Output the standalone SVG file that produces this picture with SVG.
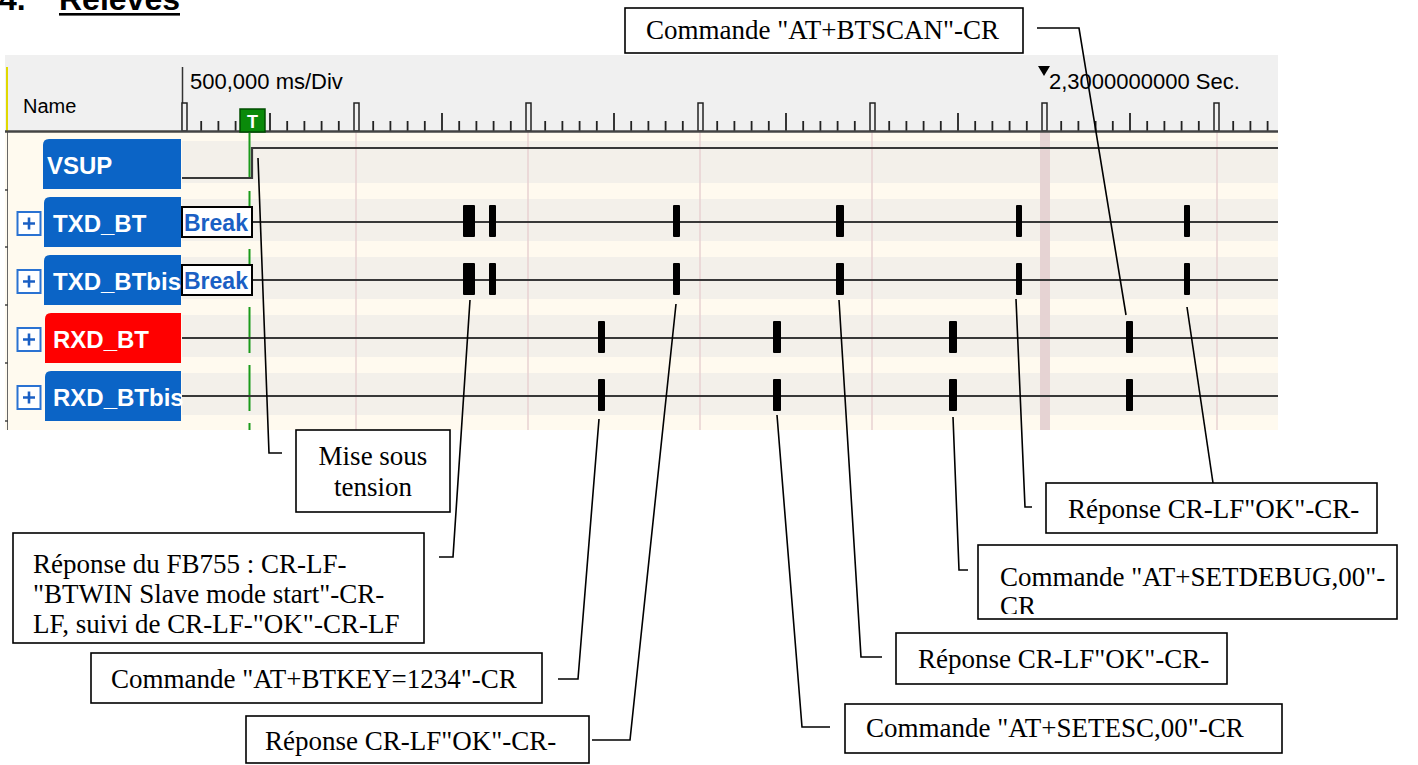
<svg xmlns="http://www.w3.org/2000/svg" width="1418" height="765" viewBox="0 0 1418 765">
<defs>
<style>
.title{font-family:"Liberation Sans",Arial,sans-serif;font-weight:bold;font-size:32px;fill:#000}
.hdr{font-family:"Liberation Sans",Arial,sans-serif;font-size:22px;fill:#000}
.nm{font-family:"Liberation Sans",Arial,sans-serif;font-size:20px;fill:#000}
.lbl{font-family:"Liberation Sans",Arial,sans-serif;font-weight:bold;font-size:24px;fill:#fff}
.brk{font-family:"Liberation Sans",Arial,sans-serif;font-weight:bold;font-size:23px;fill:#1a5fc4}
.cap{font-family:"Liberation Serif","Times New Roman",serif;font-size:27px;fill:#000}
.box{fill:#fff;stroke:#000;stroke-width:1.6}
.conn{fill:none;stroke:#000;stroke-width:1.6}
.sig{fill:none;stroke:#383838;stroke-width:2.2}
.tick{stroke:#222;stroke-width:1.8;fill:none}
.major{fill:#f0f0f0;stroke:#222;stroke-width:1.5}
.grid{stroke:#e8d2d2;stroke-width:1.5}
.band{fill:#f3f0ea}
.pulse{fill:#000}
.tabB{fill:#0b64c6}
.tabR{fill:#ff0000}
.plus{fill:#fff;stroke:#2a72d2;stroke-width:2}
.plusg{stroke:#1a5fc4;stroke-width:2.6;fill:none}
.brkbox{fill:#fff;stroke:#000;stroke-width:2}
</style>
<clipPath id="clipDbg"><rect x="978" y="545" width="419" height="69"/></clipPath>
</defs>

<g id="title">
<text class="title" x="-1" y="10">4.</text>
<text class="title" x="59" y="10">Relevés</text>
<rect x="59" y="13" width="121" height="2.6" fill="#000"/>
</g>

<g id="analyzer">
<rect x="5" y="55" width="1273" height="77" fill="#f0f0f0"/>
<rect x="5" y="132" width="1273" height="298" fill="#fffaef"/>
<g id="bands">
<rect class="band" x="182" y="141" width="1096" height="42"/>
<rect class="band" x="182" y="199" width="1096" height="42"/>
<rect class="band" x="182" y="257" width="1096" height="42"/>
<rect class="band" x="182" y="315" width="1096" height="42"/>
<rect class="band" x="182" y="373" width="1096" height="42"/>
</g>
<g id="grid">
<line class="grid" x1="356" y1="132" x2="356" y2="430"/>
<line class="grid" x1="528" y1="132" x2="528" y2="430"/>
<line class="grid" x1="700" y1="132" x2="700" y2="430"/>
<line class="grid" x1="872" y1="132" x2="872" y2="430"/>
<rect x="1040" y="132" width="10" height="298" fill="#e6d3d3"/>
<line class="grid" x1="1217" y1="132" x2="1217" y2="430"/>
</g>
<line x1="7" y1="67" x2="7" y2="131" stroke="#e0d800" stroke-width="2"/>
<line x1="7.5" y1="132" x2="7.5" y2="430" stroke="#666" stroke-width="1"/>
<path d="M5,190H8M5,247H8M5,305H8M5,363H8M5,421H8" stroke="#444" stroke-width="1.5"/>
<line x1="182.5" y1="67" x2="182.5" y2="131" stroke="#333" stroke-width="1.5"/>
<text class="nm" x="23" y="113">Name</text>
<text class="hdr" x="190" y="89">500,000 ms/Div</text>
<polygon points="1038,66 1050,66 1044,76" fill="#000"/>
<text class="hdr" x="1049" y="89">2,3000000000 Sec.</text>
<g id="ruler">
<path class="tick" d="M201.2,121V131M218.4,121V131M235.6,121V131M252.8,121V131M270,113V131M287.2,121V131M304.4,121V131M321.6,121V131M338.8,121V131
M373.2,121V131M390.4,121V131M407.6,121V131M424.8,121V131M442,113V131M459.2,121V131M476.4,121V131M493.6,121V131M510.8,121V131
M545.2,121V131M562.4,121V131M579.6,121V131M596.8,121V131M614,113V131M631.2,121V131M648.4,121V131M665.6,121V131M682.8,121V131
M717.2,121V131M734.4,121V131M751.6,121V131M768.8,121V131M786,113V131M803.2,121V131M820.4,121V131M837.6,121V131M854.8,121V131
M889.2,121V131M906.4,121V131M923.6,121V131M940.8,121V131M958,113V131M975.2,121V131M992.4,121V131M1009.6,121V131M1026.8,121V131
M1061.2,121V131M1078.4,121V131M1095.6,121V131M1112.8,121V131M1130,113V131M1147.2,121V131M1164.4,121V131M1181.6,121V131M1198.8,121V131
M1233.2,121V131M1250.4,121V131M1267.6,121V131"/>
<rect class="major" x="182" y="103" width="5" height="28"/>
<rect class="major" x="354" y="103" width="5" height="28"/>
<rect class="major" x="526" y="103" width="5" height="28"/>
<rect class="major" x="698" y="103" width="5" height="28"/>
<rect class="major" x="870" y="103" width="5" height="28"/>
<rect class="major" x="1042" y="103" width="5" height="28"/>
<rect class="major" x="1214" y="103" width="5" height="28"/>
</g>
<line x1="5" y1="131.5" x2="1278" y2="131.5" stroke="#444" stroke-width="2.5"/>
<line x1="249.5" y1="133" x2="249.5" y2="430" stroke="#1a9a1a" stroke-width="2" stroke-dasharray="46 12"/>
<g id="trigger">
<rect x="240" y="109" width="25" height="23" fill="#0a8a0a" stroke="#004d00" stroke-width="1.5"/>
<text x="252.5" y="128" text-anchor="middle" font-family="Liberation Sans, Arial, sans-serif" font-weight="bold" font-size="18" fill="#fff">T</text>
</g>
</g>

<g id="node-vsup">
<path class="tabB" d="M43,145Q43,139 49,139H181V189H43Z"/>
<text class="lbl" x="47" y="174">VSUP</text>
<path class="sig" d="M182,178H252V148H1278"/>
</g>
<g id="node-txd-bt">
<rect class="plus" x="17.5" y="212" width="23" height="23"/>
<path class="plusg" d="M23,223.5H35M29,217.5V229.5"/>
<path class="tabB" d="M44,203Q44,197 50,197H181V247H44Z"/>
<text class="lbl" x="53" y="232">TXD_BT</text>
<rect class="brkbox" x="182" y="207" width="70" height="30"/>
<text class="brk" x="184" y="231">Break</text>
<path class="sig" d="M253,222H1278"/>
<rect class="pulse" x="463" y="205" width="12" height="32" rx="1"/>
<rect class="pulse" x="489" y="205" width="7" height="32" rx="1"/>
<rect class="pulse" x="673" y="205" width="7" height="32" rx="1"/>
<rect class="pulse" x="836" y="205" width="8" height="32" rx="1"/>
<rect class="pulse" x="1016" y="205" width="6" height="32" rx="1"/>
<rect class="pulse" x="1184" y="205" width="6" height="32" rx="1"/>
</g>
<g id="node-txd-btbis">
<rect class="plus" x="17.5" y="270" width="23" height="23"/>
<path class="plusg" d="M23,281.5H35M29,275.5V287.5"/>
<path class="tabB" d="M44,261Q44,255 50,255H181V305H44Z"/>
<text class="lbl" x="53" y="290">TXD_BTbis</text>
<rect class="brkbox" x="182" y="265" width="70" height="30"/>
<text class="brk" x="184" y="289">Break</text>
<path class="sig" d="M253,280H1278"/>
<rect class="pulse" x="463" y="263" width="12" height="32" rx="1"/>
<rect class="pulse" x="489" y="263" width="7" height="32" rx="1"/>
<rect class="pulse" x="673" y="263" width="7" height="32" rx="1"/>
<rect class="pulse" x="836" y="263" width="8" height="32" rx="1"/>
<rect class="pulse" x="1016" y="263" width="6" height="32" rx="1"/>
<rect class="pulse" x="1184" y="263" width="6" height="32" rx="1"/>
</g>
<g id="node-rxd-bt">
<rect class="plus" x="17.5" y="328" width="23" height="23"/>
<path class="plusg" d="M23,339.5H35M29,333.5V345.5"/>
<path class="tabR" d="M45,319Q45,313 51,313H181V363H45Z"/>
<text class="lbl" x="53" y="348">RXD_BT</text>
<path class="sig" d="M182,338H1278"/>
<rect class="pulse" x="598" y="321" width="7" height="32" rx="1"/>
<rect class="pulse" x="773" y="321" width="8" height="32" rx="1"/>
<rect class="pulse" x="949" y="321" width="8" height="32" rx="1"/>
<rect class="pulse" x="1126" y="321" width="7" height="32" rx="1"/>
</g>
<g id="node-rxd-btbis">
<rect class="plus" x="17.5" y="386" width="23" height="23"/>
<path class="plusg" d="M23,397.5H35M29,391.5V403.5"/>
<path class="tabB" d="M45,377Q45,371 51,371H181V421H45Z"/>
<text class="lbl" x="53" y="406">RXD_BTbis</text>
<path class="sig" d="M182,396H1278"/>
<rect class="pulse" x="598" y="379" width="7" height="32" rx="1"/>
<rect class="pulse" x="773" y="379" width="8" height="32" rx="1"/>
<rect class="pulse" x="949" y="379" width="8" height="32" rx="1"/>
<rect class="pulse" x="1126" y="379" width="7" height="32" rx="1"/>
</g>

<g id="connectors">
<path class="conn" d="M1037,28H1079L1126,315"/>
<path class="conn" d="M258,158L269,453H282"/>
<path class="conn" d="M470,300L453,557H439"/>
<path class="conn" d="M599,419L578,679H558"/>
<path class="conn" d="M676,304L630,740H592"/>
<path class="conn" d="M777,415L802,727H830"/>
<path class="conn" d="M839,300L861,657H882"/>
<path class="conn" d="M953,417L959,570H968"/>
<path class="conn" d="M1016,299L1025,507H1032"/>
<path class="conn" d="M1187,307L1213,483"/>
</g>

<g id="callout-btscan">
<rect class="box" x="625" y="8" width="398" height="45"/>
<text class="cap" x="646" y="39">Commande "AT+BTSCAN"-CR</text>
</g>
<g id="callout-mise">
<rect class="box" x="296" y="430" width="154" height="82"/>
<text class="cap" x="373" y="465" text-anchor="middle">Mise sous</text>
<text class="cap" x="373" y="496" text-anchor="middle">tension</text>
</g>
<g id="callout-ok-1">
<rect class="box" x="1046" y="483" width="331" height="50"/>
<text class="cap" x="1068" y="518">Réponse CR-LF"OK"-CR-</text>
</g>
<g id="callout-fb755">
<rect class="box" x="13" y="533" width="411" height="110"/>
<text class="cap" x="33" y="573">Réponse du FB755 : CR-LF-</text>
<text class="cap" x="33" y="603">"BTWIN Slave mode start"-CR-</text>
<text class="cap" x="33" y="633">LF, suivi de CR-LF-"OK"-CR-LF</text>
</g>
<g id="callout-setdebug">
<rect class="box" x="978" y="545" width="419" height="74"/>
<g clip-path="url(#clipDbg)">
<text class="cap" x="1000" y="586">Commande "AT+SETDEBUG,00"-</text>
<text class="cap" x="1000" y="615">CR</text>
</g>
</g>
<g id="callout-ok-2">
<rect class="box" x="896" y="633" width="331" height="51"/>
<text class="cap" x="918" y="668">Réponse CR-LF"OK"-CR-</text>
</g>
<g id="callout-btkey">
<rect class="box" x="91" y="653" width="451" height="50"/>
<text class="cap" x="111" y="688">Commande "AT+BTKEY=1234"-CR</text>
</g>
<g id="callout-setesc">
<rect class="box" x="845" y="704" width="437" height="49"/>
<text class="cap" x="866" y="737">Commande "AT+SETESC,00"-CR</text>
</g>
<g id="callout-ok-3">
<rect class="box" x="246" y="716" width="343" height="47"/>
<text class="cap" x="265" y="750">Réponse CR-LF"OK"-CR-</text>
</g>
</svg>
